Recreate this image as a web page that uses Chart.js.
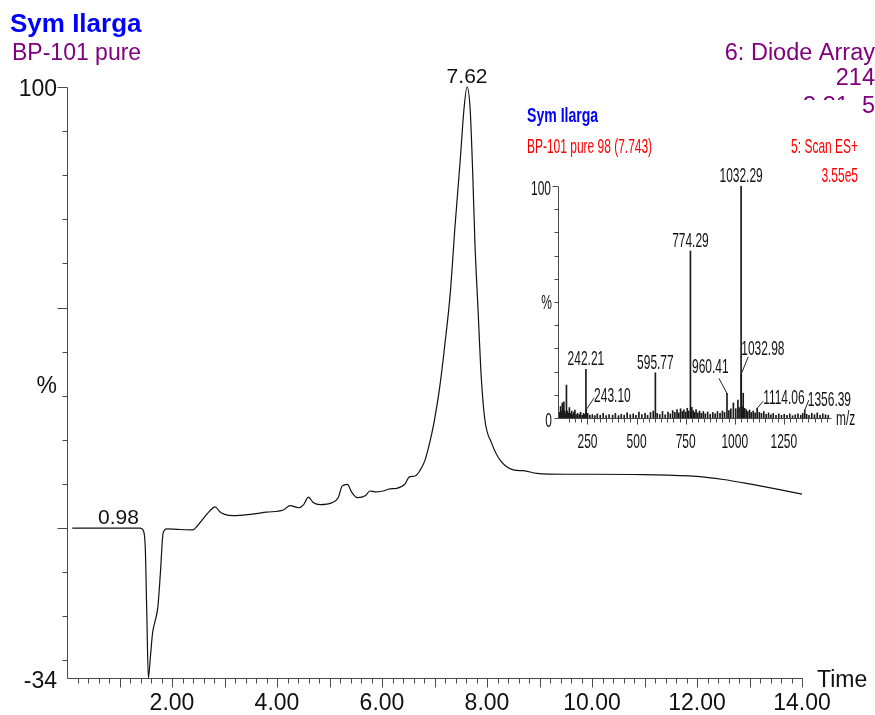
<!DOCTYPE html>
<html>
<head>
<meta charset="utf-8">
<script src="https://cdn.jsdelivr.net/npm/chart.js@4/dist/chart.umd.min.js"></script>
<style>
  html, body { margin: 0; padding: 0; background: #fff; }
  #wrap { position: relative; width: 875px; height: 715px; overflow: hidden; }
  #main { position: absolute; left: 0; top: 0; }
  #inset { position: absolute; left: 505px; top: 100px; background: #fff; }
</style>
</head>
<body>
<div id="wrap">
  <canvas id="main" width="875" height="715"></canvas>
  <canvas id="inset" width="358" height="355"></canvas>
</div>
<script>
// ---- UV chromatogram (6: Diode Array, 214 nm) ----
const rtMinutes = [0.10, 0.50, 0.98, 1.40, 1.45, 1.49, 1.52, 1.55, 1.59, 1.63, 1.68, 1.73, 1.78, 1.83, 1.90,
  2.10, 2.40, 2.47, 2.60, 2.72, 2.82, 2.91, 3.00, 3.17, 3.49, 3.80, 4.12, 4.25, 4.41, 4.50, 4.60, 4.69,
  4.82, 5.04, 5.17, 5.24, 5.34, 5.42, 5.53, 5.68, 5.77, 5.87, 6.02, 6.15, 6.28, 6.44, 6.52, 6.63, 6.72,
  6.82, 6.95, 7.01, 7.10, 7.20, 7.30, 7.39, 7.49, 7.56, 7.62, 7.68, 7.73, 7.77, 7.83, 7.89, 7.96, 8.09,
  8.25, 8.50, 8.69, 8.95, 9.50, 10.00, 11.00, 12.00, 12.50, 13.00, 13.50, 14.00];
const uvPercent = [0, 0, 0, 0, -0.5, -4.2, -19.4, -34, -29, -23.8, -21, -18, -10, -1.2, -0.2,
  -0.3, -0.4, 0.3, 2.2, 3.9, 4.8, 3.7, 3.1, 2.8, 3.1, 3.6, 4.1, 5.1, 4.6, 5.2, 7.0, 5.8,
  5.3, 5.7, 7.0, 9.5, 9.9, 8.2, 6.9, 7.3, 8.4, 8.2, 8.4, 8.9, 9.0, 10.0, 11.6, 11.8, 13.0,
  15.4, 21.5, 25.2, 32.0, 41.9, 53.2, 68.3, 83.4, 94.8, 100, 94.8, 79.7, 64.6, 49.4, 34.3, 24.5, 19.2,
  15.4, 13.2, 13.0, 12.4, 12.2, 12.2, 12.1, 11.7, 11.0, 10.0, 8.9, 7.7];
const labelledRt = [0.98, 7.62];
const timeTickLabels = [2, 4, 6, 8, 10, 12, 14];

// ---- Mass spectrum at 7.743 min (5: Scan ES+) ----
const msMz = [108, 113, 118, 122, 126, 130, 134, 139, 143, 148, 153, 158, 163, 170, 176, 181, 186, 192,
  200, 208, 215, 223, 230, 236, 242.21, 243.10, 251, 262, 275, 288, 300, 315, 330, 345, 360, 378, 392,
  408, 422, 437, 452, 468, 483, 497, 512, 527, 543, 556, 571, 585, 595.77, 605, 618, 632, 646, 660, 672,
  684, 695, 706, 715, 724, 733, 741, 750, 758, 766, 774.29, 781, 788, 795, 803, 812, 821, 830, 840, 850,
  862, 875, 888, 900, 912, 925, 937, 948, 960.41, 970, 980, 993, 1005, 1016, 1022, 1032.29, 1032.98,
  1038, 1043, 1050, 1058, 1066, 1075, 1084, 1094, 1104, 1114.06, 1125, 1136, 1148, 1160, 1172, 1184,
  1196, 1210, 1224, 1238, 1252, 1266, 1280, 1294, 1308, 1322, 1336, 1346, 1356.39, 1366, 1378, 1392,
  1406, 1420, 1434, 1448, 1462, 1476];
const msIntensity = [2.5, 5, 3, 6.5, 4, 7, 3, 2, 14.2, 3, 2, 4.5, 2, 3, 1.5, 2.5, 3.4, 1.5,
  2, 1.5, 2.5, 1.2, 2, 1.5, 21, 3.5, 2, 1.2, 1.5, 1, 1.8, 1.2, 2, 1, 1.5, 1.2, 2,
  1, 1.6, 1.2, 2.2, 1.4, 1.8, 1.2, 2.5, 1.5, 2, 1.2, 2.4, 3.0, 19.5, 2, 1.5, 2.8, 1.4, 2.6, 1.8,
  3.2, 2.4, 3.6, 2.2, 4, 2.8, 3.5, 2.5, 4.2, 3, 72, 4.6, 3.2, 2.4, 3.6, 2.2, 3, 2, 2.8, 1.8,
  2.6, 1.6, 2.4, 1.8, 2.8, 2, 3, 2.4, 10.6, 3.2, 4, 6.5, 4, 7.7, 4.5, 100, 19,
  5, 10.7, 4.2, 3.6, 2.8, 3.4, 2.4, 3, 2.2, 4.2, 2.4, 2, 2.8, 1.6, 2.2, 1.4,
  2, 1.2, 1.8, 1.2, 1.6, 1.2, 1.8, 1, 1.4, 1.8, 1.2, 2, 3.4, 1.6, 1.2, 2,
  1.4, 2.2, 1.2, 1.8, 1.4, 1.2];
// ions that carry an m/z label
const msLabelMz = [242.21, 243.10, 595.77, 774.29, 960.41, 1032.29, 1032.98, 1114.06, 1356.39];
const msTickLabels = [250, 500, 750, 1000, 1250];

const FONT = '"Liberation Sans", Arial, Helvetica, sans-serif';
const AXIS = '#4a4a4a';

function px(v) { return Math.round(v) + 0.5; }

// ---------- main chromatogram decorations ----------
const chromDecor = {
  id: 'chromDecor',
  afterDraw(chart) {
    const { ctx } = chart;
    const xs = chart.scales.x, ys = chart.scales.y;
    const left = px(xs.left), bottom = px(ys.bottom), top = px(ys.top), right = px(xs.right);
    ctx.save();
    ctx.strokeStyle = AXIS;
    ctx.lineWidth = 1;
    ctx.beginPath();
    ctx.moveTo(left, top); ctx.lineTo(left, bottom); ctx.lineTo(right, bottom);
    // y ticks every 10 %, longer at 0, 50, 100
    for (let v = -30; v <= 100; v += 10) {
      const y = px(ys.getPixelForValue(v));
      const len = (v % 50 === 0) ? 10 : 5;
      ctx.moveTo(left - len, y); ctx.lineTo(left, y);
    }
    // x ticks every 0.2 min, longer at whole minutes
    for (let k = 1; k <= 70; k++) {
      const t = k * 0.2;
      const x = px(xs.getPixelForValue(t));
      const len = (k % 5 === 0) ? 9 : 5;
      ctx.moveTo(x, bottom); ctx.lineTo(x, bottom + len);
    }
    ctx.stroke();

    ctx.fillStyle = '#111';
    ctx.font = '23px ' + FONT;
    ctx.textAlign = 'center';
    ctx.textBaseline = 'alphabetic';
    timeTickLabels.forEach(t => ctx.fillText(t.toFixed(2), xs.getPixelForValue(t), 710));
    ctx.textAlign = 'left';
    ctx.fillText('Time', 817, 687);
    ctx.textAlign = 'right';
    ctx.fillText('100', 57, 96);
    ctx.fillText('-34', 57, 688);
    ctx.fillText('%', 57, 393);

    // retention-time labels above their peaks
    ctx.textAlign = 'center';
    ctx.font = '21px ' + FONT;
    labelledRt.forEach(t => {
      const i = rtMinutes.indexOf(t);
      const x = xs.getPixelForValue(t), y = ys.getPixelForValue(uvPercent[i]);
      ctx.fillText(t.toFixed(2), x, y - 4);
    });

    // header
    ctx.textAlign = 'left';
    ctx.fillStyle = '#0000ff';
    ctx.font = 'bold 26px ' + FONT;
    ctx.fillText('Sym Ilarga', 10, 32);
    ctx.fillStyle = '#800080';
    ctx.font = '23px ' + FONT;
    ctx.fillText('BP-101 pure', 12, 60);
    ctx.textAlign = 'right';
    ctx.font = '23.5px ' + FONT;
    ctx.fillText('6: Diode Array', 875, 60);
    ctx.fillText('214', 875, 85);
    ctx.fillText('3.31e5', 875, 113);
    ctx.restore();
  }
};

new Chart(document.getElementById('main'), {
  type: 'line',
  data: {
    datasets: [{
      data: rtMinutes.map((t, i) => ({ x: t, y: uvPercent[i] })),
      borderColor: '#111',
      borderWidth: 1.2,
      pointRadius: 0,
      cubicInterpolationMode: 'monotone',
      fill: false,
      clip: false
    }]
  },
  options: {
    responsive: false,
    animation: false,
    devicePixelRatio: 1,
    layout: { padding: { left: 67, top: 87, right: 73, bottom: 37 } },
    plugins: { legend: { display: false }, tooltip: { enabled: false } },
    scales: {
      x: { type: 'linear', min: 0, max: 14, display: false },
      y: { type: 'linear', min: -34, max: 100, display: false }
    }
  },
  plugins: [chromDecor]
});

// ---------- inset mass spectrum ----------
function narrow(ctx, text, x, y, align, sx) {
  ctx.save();
  ctx.translate(x, y);
  ctx.scale(sx, 1);
  ctx.textAlign = align;
  ctx.fillText(text, 0, 0);
  ctx.restore();
}

const SX = 0.57;
const spectrumDecor = {
  id: 'spectrumDecor',
  afterDraw(chart) {
    const { ctx } = chart;
    const xs = chart.scales.x, ys = chart.scales.y;
    const left = px(xs.left), bottom = px(ys.bottom), top = px(ys.top), right = px(xs.right);
    ctx.save();
    ctx.strokeStyle = AXIS;
    ctx.lineWidth = 1;
    ctx.beginPath();
    ctx.moveTo(left, top); ctx.lineTo(left, bottom); ctx.lineTo(right, bottom);
    for (let v = 0; v <= 100; v += 10) {
      const y = px(ys.getPixelForValue(v));
      const len = (v === 100) ? 6 : 4;
      ctx.moveTo(left - len, y); ctx.lineTo(left, y);
    }
    // m/z ticks: eight per labelled interval, longer at the labels
    for (let k = 1; 125 + k * 31.25 <= 1490; k++) {
      const m = 125 + k * 31.25;
      const x = px(xs.getPixelForValue(m));
      const len = (m % 250 === 0) ? 6 : 4;
      ctx.moveTo(x, bottom); ctx.lineTo(x, bottom + len);
    }
    ctx.stroke();

    ctx.fillStyle = '#111';
    ctx.font = '21px ' + FONT;
    msTickLabels.forEach(m => narrow(ctx, String(m), xs.getPixelForValue(m), 348, 'center', SX));
    narrow(ctx, '100', 46, 95, 'right', SX);
    narrow(ctx, '0', 47, 327, 'right', SX);
    narrow(ctx, '%', 47, 209, 'right', SX);
    narrow(ctx, 'm/z', 331, 325, 'left', SX);

    // ion labels
    const pos = (mz) => {
      const i = msMz.indexOf(mz);
      return { x: xs.getPixelForValue(mz), y: ys.getPixelForValue(msIntensity[i]) };
    };
    ctx.lineWidth = 1;
    ctx.strokeStyle = '#222';
    msLabelMz.forEach(mz => {
      const p = pos(mz);
      const txt = mz.toFixed(2);
      let lx, ly, align = 'left', lead = null;
      if (mz === 243.10) { lx = p.x + 8; ly = p.y - 8; lead = [p.x + 8, p.y - 12]; }
      else if (mz === 960.41) { lx = p.x - 35; ly = p.y - 20; lead = [p.x - 8, p.y - 15]; }
      else if (mz === 1032.98) { lx = p.x; ly = p.y - 19; lead = [p.x + 7, p.y - 17]; }
      else if (mz === 1114.06) { lx = p.x + 6; ly = p.y - 4; lead = [p.x + 6, p.y - 7]; }
      else if (mz === 1356.39) { lx = p.x + 3; ly = p.y - 4; lead = [p.x + 4, p.y - 10]; }
      else { lx = p.x; ly = p.y - 4; align = 'center'; }
      if (lead) {
        ctx.beginPath();
        ctx.moveTo(p.x, p.y);
        ctx.lineTo(lead[0], lead[1]);
        ctx.stroke();
      }
      narrow(ctx, txt, lx, ly, align, SX);
    });

    // header
    ctx.fillStyle = '#0000ff';
    ctx.font = 'bold 21px ' + FONT;
    narrow(ctx, 'Sym Ilarga', 22, 22, 'left', 0.67);
    ctx.fillStyle = '#ff0000';
    ctx.font = '21px ' + FONT;
    narrow(ctx, 'BP-101 pure 98 (7.743)', 22, 53, 'left', SX);
    narrow(ctx, '5: Scan ES+', 353, 53, 'right', SX);
    narrow(ctx, '3.55e5', 353, 82, 'right', SX);
    ctx.restore();
  }
};

new Chart(document.getElementById('inset'), {
  type: 'bar',
  data: {
    datasets: [{
      data: msMz.map((m, i) => ({ x: m, y: msIntensity[i] })),
      backgroundColor: '#1a1a1a',
      borderWidth: 0,
      barThickness: 1,
      grouped: false
    }]
  },
  options: {
    responsive: false,
    animation: false,
    devicePixelRatio: 1,
    layout: { padding: { left: 53, top: 86, right: 32, bottom: 37 } },
    plugins: { legend: { display: false }, tooltip: { enabled: false } },
    scales: {
      x: { type: 'linear', min: 100, max: 1490, display: false, offset: false },
      y: { type: 'linear', min: 0, max: 100, display: false }
    }
  },
  plugins: [spectrumDecor]
});
</script>
</body>
</html>
